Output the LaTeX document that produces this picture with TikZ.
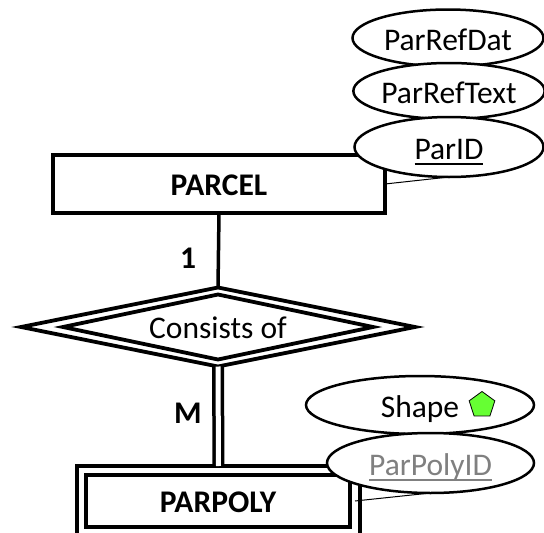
\documentclass[tikz,border=0pt]{standalone}
\usepackage{fontspec}
\setmainfont{Carlito}
\usetikzlibrary{shapes.geometric}
\newsavebox{\ulxbox}
\newcommand{\ulx}[1]{\sbox{\ulxbox}{#1}\rlap{\usebox{\ulxbox}}\raisebox{-5.5pt}[0pt][0pt]{\rule{\wd\ulxbox}{1.8pt}}}
\tikzset{
  ent/.style={rectangle,draw=black,fill=white,line width=4pt,inner sep=0pt,outer sep=0pt,text height=23pt,text depth=0pt,font=\fontsize{31.5}{36}\selectfont\bfseries},
  rel/.style={diamond,draw=black,fill=white,line width=3.8pt,inner sep=0pt,outer sep=0pt,shape aspect=4.6,text height=22pt,text depth=0pt,font=\fontsize{31.5}{36}\selectfont},
  attr/.style={ellipse,draw=black,fill=white,line width=2.5pt,inner sep=0pt,outer sep=0pt,text height=24pt,text depth=0pt,font=\fontsize{31.5}{36}\selectfont},
  link/.style={draw=black,line width=3.5pt},
  thinlink/.style={draw=black,line width=1pt},
  card/.style={font=\fontsize{31.5}{36}\selectfont\bfseries,inner sep=0pt}
}
\definecolor{greenpent}{HTML}{66FF33}
\begin{document}
\begin{tikzpicture}[x=1pt,y=-1pt]
\clip (0,0) rectangle (544,533);
% entities
\node[ent,minimum width=332pt,minimum height=58pt] (parcel) at (219,184) {PARCEL};
\node[ent,minimum width=283pt,minimum height=94pt] (polyouter) at (218.5,513) {};
\node[ent,minimum width=264pt,minimum height=52pt] (polyinner) at (218,501) {PARPOLY};
% relationship
\node[rel,minimum width=394pt,minimum height=79pt] (relouter) at (218,327) {};
\node[rel,minimum width=310pt,minimum height=65pt] (relinner) at (218,327) {Consists of};
% connectors
\draw[link] (parcel.south) -- (relouter.north);
\draw[link,double=white,double distance=5pt] (relouter.south) -- (polyouter.north);
\node[card] (one) at (188,258) {1};
\node[card] (m) at (188,413.5) {M};
% attributes
\node[attr,minimum width=191pt,minimum height=57pt] (refdat) at (448,38) {ParRefDat};
\node[attr,minimum width=189pt,minimum height=56pt] (reftext) at (449,91) {ParRefText};
\node[attr,minimum width=189pt,minimum height=60pt] (parid) at (449,147) {\ulx{ParID}};
\node[attr,minimum width=228pt,minimum height=58pt] (shape) at (420,405) {Shape};
\node[regular polygon,regular polygon sides=5,draw=black,line width=0.8pt,fill=greenpent,inner sep=0pt,outer sep=0pt,minimum size=27pt] (pent) at (482,405) {};
\node[attr,text=black!50,minimum width=207pt,minimum height=60pt] (polyid) at (430.5,463) {\ulx{ParPolyID}};
% attribute links
\draw[thinlink] (parcel.east) -- (parid.south);
\draw[thinlink] ([xshift=5pt]polyinner.east) -- (polyid.south);
\end{tikzpicture}
\end{document}
